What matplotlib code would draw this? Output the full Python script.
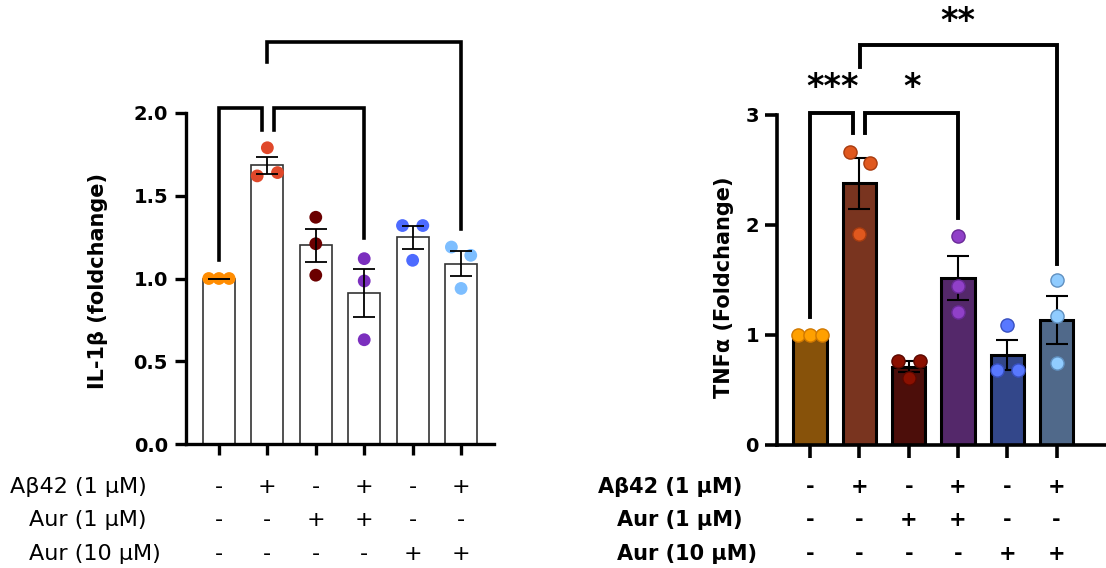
import numpy as np
import matplotlib
matplotlib.use("Agg")
import matplotlib.pyplot as plt
from matplotlib.transforms import blended_transform_factory

plt.rcParams['font.family'] = ['DejaVu Sans']

# ---- data ----
groups = [0, 1, 2, 3, 4, 5]
row_labels = ["A\u03b242 (1 \u03bcM)", "Aur (1 \u03bcM)", "Aur (10 \u03bcM)"]
abeta = ["-", "+", "-", "+", "-", "+"]
aur1 = ["-", "-", "+", "+", "-", "-"]
aur10 = ["-", "-", "-", "-", "+", "+"]

il1b_pts = [[1.0, 1.0, 1.0],
            [1.79, 1.62, 1.64],
            [1.37, 1.21, 1.02],
            [1.12, 0.985, 0.63],
            [1.32, 1.32, 1.11],
            [1.19, 1.14, 0.94]]
il1b_jitter = [[-0.21, 0, 0.21], [0, -0.21, 0.21], [0, 0, 0],
               [0, 0, 0], [-0.21, 0.21, 0], [-0.2, 0.2, 0]]

tnf_pts = [[1.0, 1.0, 1.0],
           [2.66, 2.56, 1.92],
           [0.76, 0.76, 0.61],
           [1.90, 1.45, 1.21],
           [1.09, 0.68, 0.68],
           [1.50, 1.17, 0.745]]
tnf_jitter = [[-0.24, 0, 0.24], [-0.2, 0.22, 0], [-0.22, 0.22, 0],
              [0, 0, 0], [0, -0.2, 0.22], [0, 0, 0]]

left_dot_colors = ["#ff8c00", "#e0482a", "#6b0000", "#7b2fbe", "#4d6bff", "#7dbeff"]
right_dot_colors = ["#ffa000", "#e0581e", "#8b1000", "#9040c8", "#5878ff", "#90ccff"]
right_dot_edges = ["#d07800", "#a83c10", "#5a0800", "#6a2a98", "#3850c0", "#6090c0"]
right_bar_colors = ["#87520a", "#79341f", "#4c0e0a", "#54286a", "#33478a", "#50698a"]

# brackets: (x_left, x_right, top, left_leg_bottom, right_leg_bottom)
il1b_brackets = [(0, 0.88, 2.03, 1.11, 1.90),
                 (1.13, 3, 2.03, 1.90, 1.245),
                 (1, 5, 2.43, 2.31, 1.30)]
tnf_brackets = [(0, 0.87, 3.02, 1.16, 2.84),
                (1.11, 3, 3.02, 2.84, 2.06),
                (1.01, 5, 3.64, 3.44, 1.65)]
tnf_stars = [("***", 0.45, 3.25), ("*", 2.06, 3.25), ("**", 3.0, 3.85)]


def mean_sem(pts):
    a = np.array(pts)
    return a.mean(axis=1), a.std(axis=1, ddof=1) / np.sqrt(a.shape[1])


fig = plt.figure(figsize=(11.06, 5.68), dpi=100)

# ---------- left panel: IL-1b ----------
ax1 = fig.add_axes([186 / 1106, 124 / 568, 308 / 1106, 331 / 568])
m, s = mean_sem(il1b_pts)
ax1.bar(groups, m, width=0.66, color="white", edgecolor="#333333", linewidth=1.2, zorder=1)
for g in groups:
    xs = np.array(il1b_jitter[g]) + g
    ax1.scatter(xs, il1b_pts[g], s=85, color=left_dot_colors[g], edgecolor="none", zorder=3, clip_on=False)
ax1.errorbar(groups, m, yerr=s, fmt="none", ecolor="black", elinewidth=1.3, capsize=8, capthick=1.3, zorder=4)
ax1.set_xlim(-0.68, 5.68)
ax1.set_ylim(0, 2)
ax1.set_yticks([0, 0.5, 1.0, 1.5, 2.0])
ax1.set_yticklabels(["0.0", "0.5", "1.0", "1.5", "2.0"], fontweight="bold", fontsize=14)
ax1.set_xticks(groups)
ax1.set_xticklabels([])
for sp in ["top", "right"]:
    ax1.spines[sp].set_visible(False)
for sp in ["left", "bottom"]:
    ax1.spines[sp].set_linewidth(2.4)
ax1.tick_params(axis="both", width=2.4, length=8, pad=5)
for xl, xr, top, lb, rb in il1b_brackets:
    ax1.plot([xl, xl, xr, xr], [lb, top, top, rb], color="black", lw=2.6,
             clip_on=False, solid_joinstyle="miter", zorder=5)
fig.text(98 / 1106, 0.505, "IL-1\u03b2 (foldchange)", rotation=90, ha="center", va="center",
         fontsize=15, fontweight="bold")

# ---------- right panel: TNFa ----------
ax2 = fig.add_axes([777 / 1106, 123 / 568, 329 / 1106, 330 / 568])
m2, s2 = mean_sem(tnf_pts)
ax2.bar(groups, m2, width=0.68, color=right_bar_colors, edgecolor="black", linewidth=2.2, zorder=1)
ax2.errorbar(groups, m2, yerr=s2, fmt="none", ecolor="black", elinewidth=1.5, capsize=8, capthick=1.5, zorder=2)
for g in groups:
    xs = np.array(tnf_jitter[g]) + g
    ax2.scatter(xs, tnf_pts[g], s=90, color=right_dot_colors[g], edgecolor=right_dot_edges[g],
                linewidth=1.0, zorder=3, clip_on=False)
ax2.set_xlim(-0.67, 6.0)
ax2.set_ylim(0, 3)
ax2.set_yticks([0, 1, 2, 3])
ax2.set_yticklabels(["0", "1", "2", "3"], fontweight="bold", fontsize=14)
ax2.set_xticks(groups)
ax2.set_xticklabels([])
for sp in ["top", "right"]:
    ax2.spines[sp].set_visible(False)
for sp in ["left", "bottom"]:
    ax2.spines[sp].set_linewidth(2.6)
ax2.tick_params(axis="both", width=2.6, length=9, pad=4)
for xl, xr, top, lb, rb in tnf_brackets:
    ax2.plot([xl, xl, xr, xr], [lb, top, top, rb], color="black", lw=2.8,
             clip_on=False, solid_joinstyle="miter", zorder=5)
for txt, x, y in tnf_stars:
    ax2.text(x, y, txt, ha="center", va="center", fontsize=24, fontweight="bold")
fig.text(724 / 1106, 0.495, "TNF\u03b1 (Foldchange)", rotation=90, ha="center", va="center",
         fontsize=15, fontweight="bold")

# ---------- condition tables ----------
row_y = [1 - 487 / 568, 1 - 520 / 568, 1 - 554 / 568]
rows = [abeta, aur1, aur10]
left_label_x = [10 / 1106, 29 / 1106, 29 / 1106]
right_label_x = [598 / 1106, 617 / 1106, 617 / 1106]
for ax, lab_x, weight, fs in [(ax1, left_label_x, "normal", 16), (ax2, right_label_x, "bold", 15)]:
    tr = blended_transform_factory(ax.transData, fig.transFigure)
    for r, yy in enumerate(row_y):
        fig.text(lab_x[r], yy, row_labels[r], ha="left", va="center", fontsize=fs, fontweight=weight)
        for g in groups:
            ax.text(g, yy, rows[r][g], ha="center", va="center", fontsize=fs,
                    fontweight=weight, transform=tr)

fig.savefig("out.png", dpi=100)
